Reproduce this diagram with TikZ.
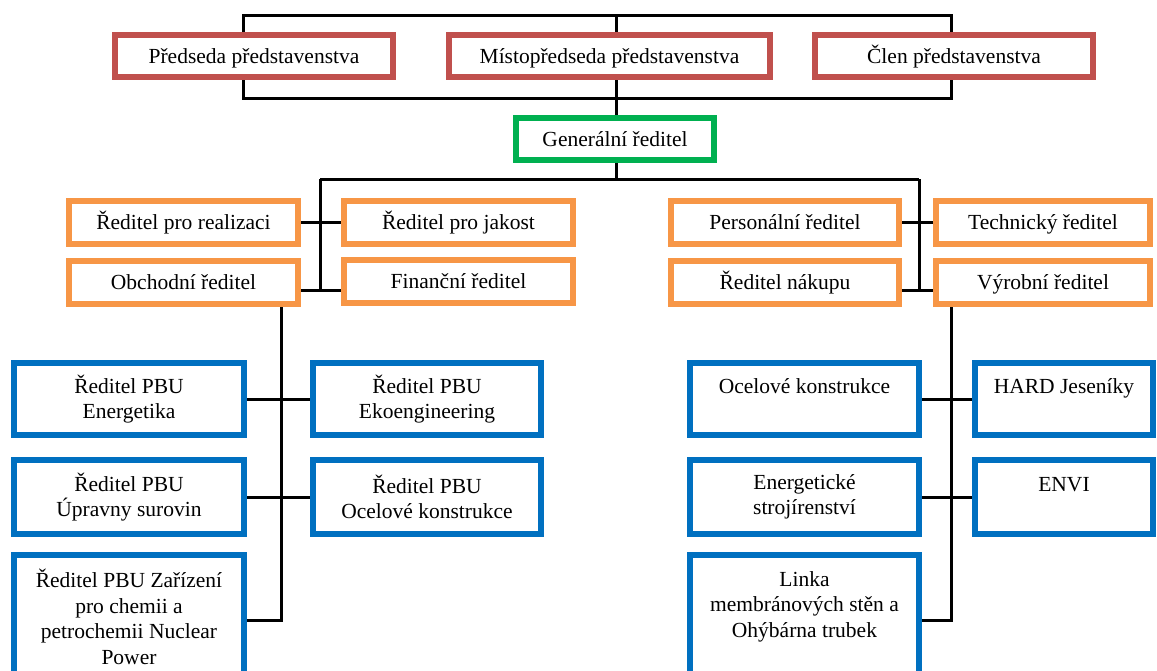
\documentclass[tikz,border=0pt]{standalone}
\usepackage{fontspec}
\setmainfont{Liberation Serif}
\definecolor{cred}{HTML}{C0504D}
\definecolor{cgreen}{HTML}{00B050}
\definecolor{corange}{HTML}{F79646}
\definecolor{cblue}{HTML}{0070C0}
\begin{document}
\begin{tikzpicture}[x=1pt,y=-1pt,
  box/.style={draw,line width=6pt,fill=white,inner sep=0pt,align=center,
    font=\fontsize{21.5pt}{25.5pt}\selectfont},
  one/.style={text height=17pt,text depth=3pt},
  redbox/.style={box,one,draw=cred,minimum height=42pt},
  greenbox/.style={box,one,draw=cgreen,minimum height=42pt},
  orbox/.style={box,one,draw=corange,minimum height=43pt},
  bluebox/.style={box,draw=cblue},
  conn/.style={draw=black,line width=3pt}]
\useasboundingbox (0,0) rectangle (1157,670);
\clip (0,0) rectangle (1157,670);
% board
\node[redbox,minimum width=278pt] (pred) at (254,56) {Předseda představenstva};
\node[redbox,minimum width=321pt] (misto) at (609.5,56) {Místopředseda představenstva};
\node[redbox,minimum width=278pt] (clen) at (954,56) {Člen představenstva};
\node[greenbox,minimum width=198pt] (gen) at (615,139) {Generální ředitel};
% orange
\node[orbox,minimum width=229pt] (real) at (183.5,222.5) {Ředitel pro realizaci};
\node[orbox,minimum width=229pt] (obch) at (183.5,282.5) {Obchodní ředitel};
\node[orbox,minimum width=229pt] (jakost) at (458.5,222.5) {Ředitel pro jakost};
\node[orbox,minimum width=229pt] (fin) at (458.5,281.5) {Finanční ředitel};
\node[orbox,minimum width=228pt] (pers) at (785,222.5) {Personální ředitel};
\node[orbox,minimum width=214pt] (tech) at (1043,222.5) {Technický ředitel};
\node[orbox,minimum width=228pt] (nakup) at (785,282.5) {Ředitel nákupu};
\node[orbox,minimum width=214pt] (vyrob) at (1043,282.5) {Výrobní ředitel};
% blue
\node[bluebox,minimum width=230pt,minimum height=72pt] (b1) at (129,399) {Ředitel PBU\\Energetika};
\node[bluebox,minimum width=228pt,minimum height=72pt] (b2) at (427,399) {Ředitel PBU\\Ekoengineering};
\node[bluebox,minimum width=230pt,minimum height=74pt] (b3) at (129,497) {Ředitel PBU\\Úpravny surovin};
\node[bluebox,minimum width=228pt,minimum height=74pt] (b4) at (427,497) {Ředitel PBU\\Ocelové konstrukce};
\node[bluebox,minimum width=230pt,minimum height=124pt] (b5) at (129,617) {Ředitel PBU Zařízení\\pro chemii a\\petrochemii Nuclear\\Power};
\node[bluebox,minimum width=229pt,minimum height=72pt] (b6) at (804.5,399) {Ocelové konstrukce\\~};
\node[bluebox,minimum width=178pt,minimum height=72pt] (b7) at (1064,399) {HARD Jeseníky\\~};
\node[bluebox,minimum width=229pt,minimum height=74pt] (b8) at (804.5,497) {Energetické\\strojírenství};
\node[bluebox,minimum width=178pt,minimum height=74pt] (b9) at (1064,497) {ENVI\\~};
\node[bluebox,minimum width=229pt,minimum height=124pt] (b10) at (804.5,617) {Linka\\membránových stěn a\\Ohýbárna trubek\\~};
% connector points
\coordinate (tl) at (243,15);
\coordinate (tm) at (616,15);
\coordinate (tr) at (951,15);
\coordinate (bl) at (243,98);
\coordinate (bm) at (616,98);
\coordinate (br) at (951,98);
\coordinate (hl) at (320,179);
\coordinate (hr) at (919,179);
\coordinate (cl) at (320,290);
\coordinate (cr) at (919,290);
\coordinate (dl) at (281,620);
\coordinate (dr) at (951,620);
% connectors
\draw[conn] (tl |- pred.north) -- (tl) -- (tr) -- (tr |- clen.north);
\draw[conn] (tm) -- (tm |- misto.north);
\draw[conn] (bl |- pred.south) -- (bl) -- (br) -- (br |- clen.south);
\draw[conn] (bm |- misto.south) -- (bm |- gen.north);
\draw[conn] (bm |- gen.south) -- (bm |- hl);
\draw[conn] (hl) -- (hr);
\draw[conn] (hl) -- (cl);
\draw[conn] (hr) -- (cr);
\draw[conn] (real.east) -- (jakost.west);
\draw[conn] (obch.east |- cl) -- (fin.west |- cl);
\draw[conn] (pers.east) -- (tech.west);
\draw[conn] (nakup.east |- cr) -- (vyrob.west |- cr);
\draw[conn] (dl |- obch.south) -- (dl) -- (dl -| b5.east);
\draw[conn] (b1.east) -- (b2.west);
\draw[conn] (b3.east) -- (b4.west);
\draw[conn] (dr |- vyrob.south) -- (dr) -- (dr -| b10.east);
\draw[conn] (b6.east) -- (b7.west);
\draw[conn] (b8.east) -- (b9.west);
\end{tikzpicture}
\end{document}
